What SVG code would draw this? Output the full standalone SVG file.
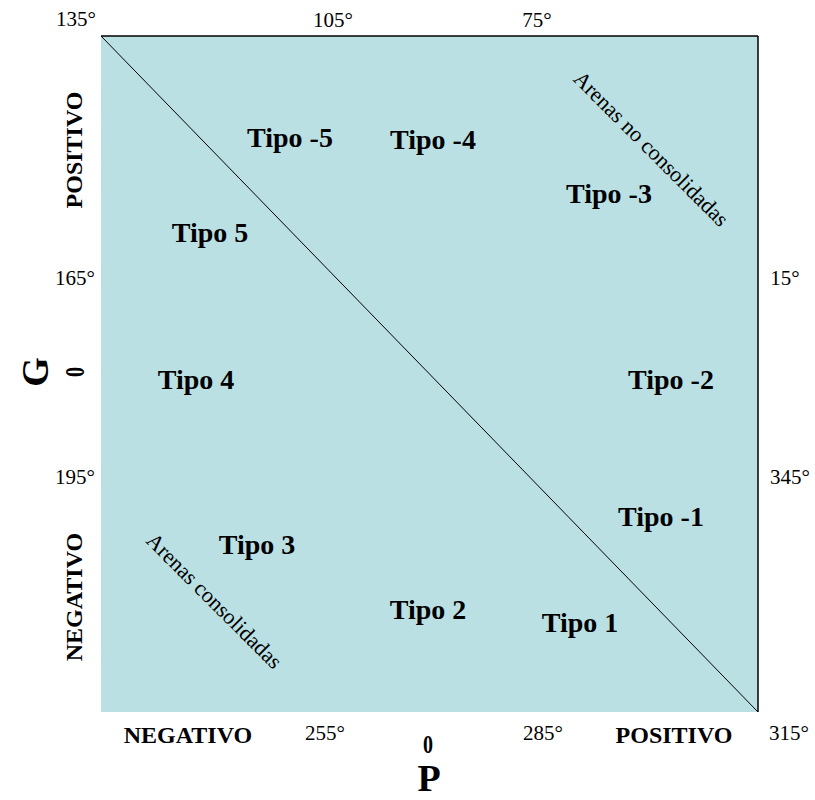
<svg xmlns="http://www.w3.org/2000/svg" width="815" height="800" viewBox="0 0 815 800">
<style>
.t{font-family:"Liberation Serif",serif;font-weight:bold;font-size:28px;fill:#000;text-anchor:middle}
.d{font-family:"Liberation Serif",serif;font-size:21px;fill:#000;text-anchor:middle}
.b{font-family:"Liberation Serif",serif;font-weight:bold;font-size:24px;fill:#000;text-anchor:middle}
.z{font-family:"Liberation Serif",serif;font-weight:bold;font-size:25px;fill:#000;text-anchor:middle}
.a{font-family:"Liberation Serif",serif;font-size:22px;fill:#000;text-anchor:middle}
.big{font-family:"Liberation Serif",serif;font-weight:bold;font-size:38px;fill:#000;text-anchor:middle}
</style>
<rect width="815" height="800" fill="#fff"/>
<g id="box">
<rect x="101" y="36" width="657" height="676" fill="#BAE0E4"/>
<line x1="101" y1="36" x2="758" y2="36" stroke="#000" stroke-width="1.5"/>
<line x1="758" y1="36" x2="758" y2="712" stroke="#000" stroke-width="1.5"/>
</g>
<g id="connectors">
<line x1="101" y1="36" x2="758" y2="712" stroke="#000" stroke-width="1"/>
</g>
<g id="tipo-m5"><text class="t" x="290" y="147">Tipo -5</text></g>
<g id="tipo-m4"><text class="t" x="433" y="149">Tipo -4</text></g>
<g id="tipo-m3"><text class="t" x="609" y="203">Tipo -3</text></g>
<g id="tipo-5"><text class="t" x="210" y="242">Tipo 5</text></g>
<g id="tipo-4"><text class="t" x="196" y="389">Tipo 4</text></g>
<g id="tipo-m2"><text class="t" x="671" y="389">Tipo -2</text></g>
<g id="tipo-m1"><text class="t" x="661" y="526">Tipo -1</text></g>
<g id="tipo-3"><text class="t" x="257" y="554">Tipo 3</text></g>
<g id="tipo-2"><text class="t" x="428" y="619">Tipo 2</text></g>
<g id="tipo-1"><text class="t" x="580" y="632">Tipo 1</text></g>
<g id="arenas-no"><text class="a" transform="translate(651,149) rotate(45)" y="7">Arenas no consolidadas</text></g>
<g id="arenas"><text class="a" transform="translate(214,601) rotate(45)" y="7">Arenas consolidadas</text></g>
<g id="degrees">
<text class="d" x="76" y="26">135°</text>
<text class="d" x="333" y="27">105°</text>
<text class="d" x="537" y="27">75°</text>
<text class="d" x="75" y="285">165°</text>
<text class="d" x="75" y="484">195°</text>
<text class="d" x="785" y="285">15°</text>
<text class="d" x="790" y="484">345°</text>
<text class="d" x="325" y="740">255°</text>
<text class="d" x="543" y="740">285°</text>
<text class="d" x="789" y="740">315°</text>
</g>
<g id="axis-labels">
<text class="b" x="188" y="743">NEGATIVO</text>
<text class="b" x="674" y="743">POSITIVO</text>
<text class="z" transform="translate(428,753) scale(0.8,1)">0</text>
<text class="big" x="429" y="791">P</text>
<text class="b" transform="translate(82,150) rotate(-90)">POSITIVO</text>
<text class="b" transform="translate(82,597) rotate(-90)">NEGATIVO</text>
<text class="z" transform="translate(84,372) rotate(-90) scale(0.8,1.1)">0</text>
<text class="big" transform="translate(48,372) rotate(-90)">G</text>
</g>
</svg>
